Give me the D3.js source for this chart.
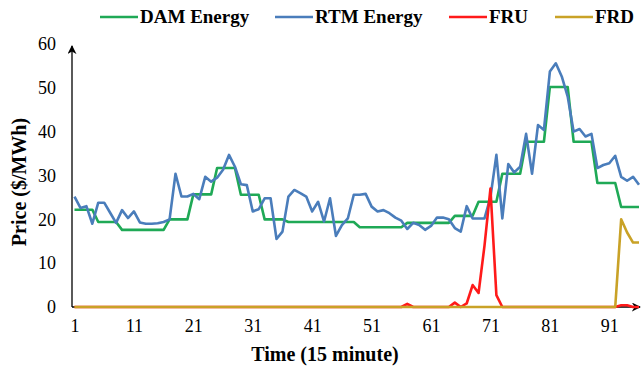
<!DOCTYPE html>
<html>
<head>
<meta charset="utf-8">
<script src="https://cdn.jsdelivr.net/npm/d3@7"></script>
<style>
  body { margin: 0; background: #fff; }
  text { font-family: "Liberation Serif", "Times New Roman", serif; }
</style>
</head>
<body>
<div id="chart"></div>
<script>
// time steps (15 minute intervals)
var timeSteps = d3.range(1, 97);
var xTicks = [1, 11, 21, 31, 41, 51, 61, 71, 81, 91];
var yTicks = [0, 10, 20, 30, 40, 50, 60];

var damEnergy = [
  22.2, 22.2, 22.2, 22.2, 19.4, 19.4, 19.4, 19.4,
  17.6, 17.6, 17.6, 17.6, 17.6, 17.6, 17.6, 17.6,
  20.0, 20.0, 20.0, 20.0, 25.7, 25.7, 25.7, 25.7,
  31.7, 31.7, 31.7, 31.7, 25.6, 25.6, 25.6, 25.6,
  20.0, 20.0, 20.0, 20.0, 19.4, 19.4, 19.4, 19.4,
  19.4, 19.4, 19.4, 19.4, 19.4, 19.4, 19.4, 19.4,
  18.2, 18.2, 18.2, 18.2, 18.2, 18.2, 18.2, 18.2,
  19.2, 19.2, 19.2, 19.2, 19.2, 19.2, 19.2, 19.2,
  20.8, 20.8, 20.8, 20.8, 24.0, 24.0, 24.0, 24.0,
  30.4, 30.4, 30.4, 30.4, 37.7, 37.7, 37.7, 37.7,
  50.2, 50.2, 50.2, 50.2, 37.7, 37.7, 37.7, 37.7,
  28.3, 28.3, 28.3, 28.3, 22.8, 22.8, 22.8, 22.8
];

var rtmEnergy = [
  25.2, 22.6, 23.0, 19.0, 23.8, 23.8, 21.5, 19.2,
  22.1, 20.3, 21.8, 19.3, 19.0, 19.0, 19.1, 19.4,
  20.0, 30.4, 25.2, 25.2, 25.8, 24.6, 29.7, 28.6,
  29.5, 31.3, 34.7, 32.0, 28.0, 27.8, 21.8, 22.3,
  24.8, 24.8, 15.5, 17.2, 25.2, 26.7, 26.0, 25.2,
  21.8, 24.0, 19.5, 24.8, 16.2, 18.7, 20.2, 25.6,
  25.6, 25.8, 22.9, 21.8, 22.1, 21.4, 20.4, 19.7,
  17.8, 19.2, 18.7, 17.6, 18.5, 20.4, 20.4, 20.0,
  18.0, 17.2, 23.0, 20.2, 20.2, 20.2, 25.0, 34.7,
  20.2, 32.6, 30.7, 32.0, 39.5, 30.4, 41.5, 40.4,
  53.7, 55.6, 52.6, 48.0, 40.0, 40.6, 38.9, 39.5,
  31.7, 32.4, 32.8, 34.5, 29.7, 28.8, 29.7, 27.9
];

var fru = [
  0, 0, 0, 0, 0, 0, 0, 0, 0, 0, 0, 0, 0, 0, 0, 0,
  0, 0, 0, 0, 0, 0, 0, 0, 0, 0, 0, 0, 0, 0, 0, 0,
  0, 0, 0, 0, 0, 0, 0, 0, 0, 0, 0, 0, 0, 0, 0, 0,
  0, 0, 0, 0, 0, 0, 0, 0, 0.7, 0, 0, 0, 0, 0, 0, 0,
  1.0, 0, 0.8, 5.0, 3.2, 14.0, 27.0, 2.7,
  0, 0, 0, 0, 0, 0, 0, 0,
  0, 0, 0, 0, 0, 0, 0, 0,
  0, 0, 0, 0, 0.4, 0.4, 0, 0
];

var frd = [
  0, 0, 0, 0, 0, 0, 0, 0, 0, 0, 0, 0, 0, 0, 0, 0,
  0, 0, 0, 0, 0, 0, 0, 0, 0, 0, 0, 0, 0, 0, 0, 0,
  0, 0, 0, 0, 0, 0, 0, 0, 0, 0, 0, 0, 0, 0, 0, 0,
  0, 0, 0, 0, 0, 0, 0, 0, 0, 0, 0, 0, 0, 0, 0, 0,
  0, 0, 0, 0, 0, 0, 0, 0, 0, 0, 0, 0, 0, 0, 0, 0,
  0, 0, 0, 0, 0, 0, 0, 0, 0, 0, 0, 0, 20.0, 17.0, 14.7, 14.7
];

var seriesNames = ["DAM Energy", "RTM Energy", "FRU", "FRD"];
var seriesColors = ["#1fa956", "#4a7dbb", "#ff1a1a", "#c9a227"];

var svgWidth = 641;
var svgHeight = 372;

var svg = d3.select("#chart")
  .append("svg")
  .attr("width", svgWidth)
  .attr("height", svgHeight);

var axisX0 = 72;
var axisY0 = 307;

var xScale = d3.scaleLinear()
  .domain([1, 96])
  .range([74.5, 639]);

var yScale = d3.scaleLinear()
  .domain([0, 60])
  .range([axisY0, 44]);

// arrow heads
var defs = svg.append("defs");
defs.append("marker")
  .attr("id", "arrow")
  .attr("viewBox", "0 0 10 10")
  .attr("refX", 9)
  .attr("refY", 5)
  .attr("markerWidth", 9)
  .attr("markerHeight", 9)
  .attr("markerUnits", "userSpaceOnUse")
  .attr("orient", "auto")
  .append("path")
  .attr("d", "M0,0 L10,5 L0,10 L3,5 Z")
  .attr("fill", "#000");

// y axis labels
var leftAxis = d3.axisLeft(yScale).tickValues(yTicks).tickSize(0).tickPadding(10);
var yAxisG = svg.append("g")
  .attr("transform", `translate(${axisX0}, 0)`)
  .call(leftAxis);
yAxisG.select(".domain").remove();
yAxisG.selectAll("text")
  .style("font-family", "Liberation Serif")
  .style("font-size", "18px")
  .attr("fill", "#000")
  .attr("x", -16);

// x axis labels
var bottomAxis = d3.axisBottom(xScale).tickValues(xTicks).tickSize(0).tickPadding(12);
var xAxisG = svg.append("g")
  .attr("transform", `translate(0, ${axisY0})`)
  .call(bottomAxis);
xAxisG.select(".domain").remove();
xAxisG.selectAll("text")
  .style("font-family", "Liberation Serif")
  .style("font-size", "18px")
  .attr("fill", "#000");

// axis lines with arrows
svg.append("line")
  .attr("x1", axisX0).attr("y1", axisY0)
  .attr("x2", axisX0).attr("y2", 46)
  .attr("stroke", "#000").attr("stroke-width", 1.3)
  .attr("marker-end", "url(#arrow)");

svg.append("line")
  .attr("x1", axisX0).attr("y1", axisY0)
  .attr("x2", 640).attr("y2", axisY0)
  .attr("stroke", "#000").attr("stroke-width", 1.3)
  .attr("marker-end", "url(#arrow)");

// lines
var allSeries = [damEnergy, rtmEnergy, fru, frd];
var lineGen = d3.line()
  .x((d, i) => xScale(timeSteps[i]))
  .y(d => yScale(d));

allSeries.forEach(function(values, k) {
  svg.append("path")
    .datum(values)
    .attr("fill", "none")
    .attr("stroke", seriesColors[k])
    .attr("stroke-width", 2.6)
    .attr("stroke-linejoin", "round")
    .attr("d", lineGen);
});

// axis titles
svg.append("text")
  .attr("x", 325)
  .attr("y", 361)
  .attr("text-anchor", "middle")
  .style("font-size", "20px")
  .style("font-weight", "bold")
  .text("Time (15 minute)");

svg.append("text")
  .attr("transform", "translate(26, 182) rotate(-90)")
  .attr("text-anchor", "middle")
  .style("font-size", "20px")
  .style("font-weight", "bold")
  .text("Price ($/MWh)");

// legend
var legendX = [100, 275, 449, 555];
var legend = svg.append("g");
seriesNames.forEach(function(name, k) {
  legend.append("line")
    .attr("x1", legendX[k]).attr("x2", legendX[k] + 38)
    .attr("y1", 17).attr("y2", 17)
    .attr("stroke", seriesColors[k])
    .attr("stroke-width", 2.6);
  legend.append("text")
    .attr("x", legendX[k] + 40)
    .attr("y", 23)
    .style("font-size", "19px")
    .style("font-weight", "bold")
    .text(name);
});
</script>
</body>
</html>
